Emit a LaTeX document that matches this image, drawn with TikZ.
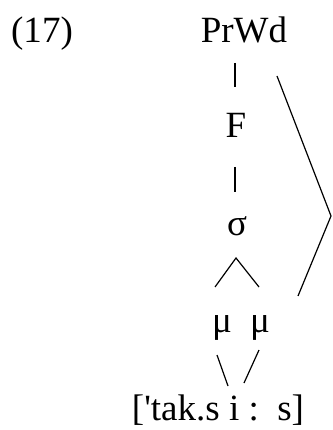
\documentclass[tikz,border=0pt]{standalone}
\usepackage{fontspec}
\setmainfont{Liberation Serif}
\begin{document}
\begin{tikzpicture}[
   x=1pt,y=-1pt,
   seg/.style={line width=1.2pt},
   every node/.style={font=\fontsize{37}{44}\selectfont,inner sep=0pt,anchor=base}
 ]
  \useasboundingbox (0,0) rectangle (332,430);
  \node (ex) at (42,43) {(17)};
  \node (prwd) at (244,43) {PrWd};
  \node (f) at (236,138) {F};
  \node (sig) at (237,235) {σ};
  \node (mu1) at (222,332) {μ};
  \node (mu2) at (260,332) {μ};
  \node (form) at (218,420) {[\textquotesingle tak.s i :\ \ s]};
  \coordinate (peak) at (331,216);

  \draw[seg] ([shift={(-9,20)}]prwd.base) -- ([shift={(-1,-51)}]f.base);
  \draw[seg] ([shift={(-1,29)}]f.base) -- ([shift={(-2,-43)}]sig.base);
  \draw[seg] ([shift={(-7,-45)}]mu1.base) -- ([shift={(-1,23)}]sig.base)
    -- ([shift={(-1,-45)}]mu2.base);
  \draw[seg] ([shift={(-5,23)}]mu1.base) -- ([shift={(10,-34)}]form.base);
  \draw[seg] ([shift={(-1,18)}]mu2.base) -- ([shift={(26,-37)}]form.base);
  \draw[seg] ([shift={(33,33)}]prwd.base) -- (peak)
    -- ([shift={(38,-36)}]mu2.base);
\end{tikzpicture}
\end{document}
